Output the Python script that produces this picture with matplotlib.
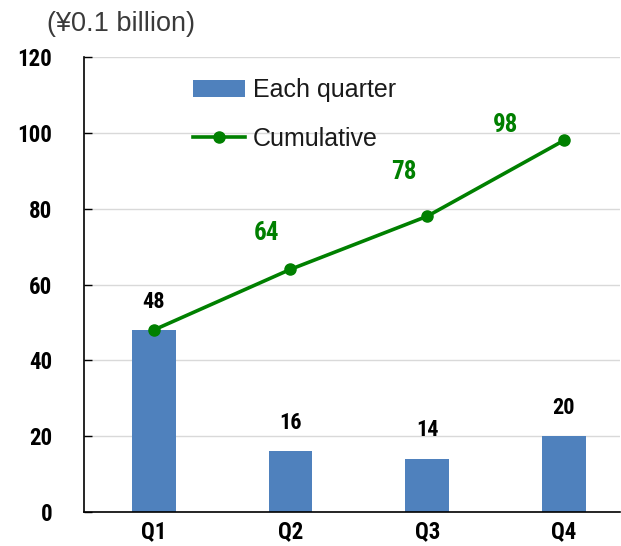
import matplotlib.pyplot as plt
import numpy as np

# datos del gráfico
quarters = ["Q1", "Q2", "Q3", "Q4"]
each_quarter = [48, 16, 14, 20]
cumulative = [48, 64, 78, 98]
y_ticks = [0, 20, 40, 60, 80, 100, 120]

# desplazamiento de las etiquetas verdes (puntos)
green_offsets = [(0, 0), (-17, 26), (-17, 32), (-42, 11)]

narrow = ["Liberation Sans Narrow", "Roboto Condensed", "DejaVu Sans"]
regular = ["Liberation Sans", "DejaVu Sans"]

fig = plt.figure(figsize=(6.21, 5.46), dpi=100)
ax = fig.add_axes([84 / 621, 1 - 512 / 546, 536 / 621, 455 / 546])

x = np.arange(len(quarters))
bars = ax.bar(x, each_quarter, width=0.32, color="#4F81BD", label="Each quarter", zorder=2)
line, = ax.plot(x, cumulative, color="#008000", lw=2.6, marker="o", ms=8,
                label="Cumulative", zorder=3)

# etiquetas de las barras
for xi, v in zip(x, each_quarter):
    ax.annotate(str(v), (xi, v), xytext=(0, 20.5), textcoords="offset points",
                ha="center", va="center", fontsize=16, fontweight="bold",
                family=narrow, stretch="condensed", color="black")

# etiquetas acumuladas (excepto la primera)
for xi, v, off in list(zip(x, cumulative, green_offsets))[1:]:
    ax.annotate(str(v), (xi, v), xytext=off, textcoords="offset points",
                ha="center", va="center", fontsize=18, fontweight="bold",
                family=narrow, stretch="condensed", color="#008000")

ax.set_xlim(-0.51, 3.41)
ax.set_ylim(0, 120)
ax.set_yticks(y_ticks)
ax.set_xticks(x)
ax.set_xticklabels(quarters)
for lbl in ax.get_xticklabels() + ax.get_yticklabels():
    lbl.set_family(narrow)
    lbl.set_stretch("condensed")
    lbl.set_fontweight("bold")
    lbl.set_fontsize(16.5)

ax.tick_params(axis="y", direction="in", length=6, width=1, pad=23)
ax.tick_params(axis="x", length=0, pad=6)
ax.yaxis.grid(True, color="#D9D9D9", lw=1, zorder=0)
ax.set_axisbelow(True)
for s in ["top", "right"]:
    ax.spines[s].set_visible(False)
ax.spines["left"].set_linewidth(1.2)
ax.spines["bottom"].set_linewidth(1.2)

fig.text(47 / 621, 1 - 24 / 546, "(¥0.1 billion)", fontsize=19.5, family=regular,
         color="#3a3a3a", ha="left", va="center")

leg = ax.legend([bars, line], ["Each quarter", "Cumulative"],
                loc="upper left", bbox_to_anchor=(0.161, 1.003), frameon=False,
                handlelength=2.1, handletextpad=0.3, labelspacing=1.0,
                prop={"family": regular, "size": 18})
for t in leg.get_texts():
    t.set_color("#1a1a1a")

fig.savefig("out.png", dpi=100)
